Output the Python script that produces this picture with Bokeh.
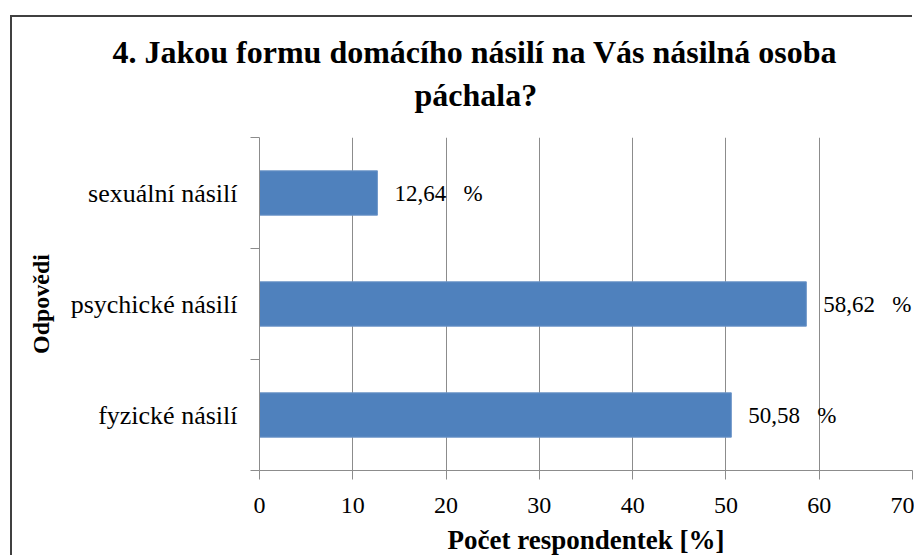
from bokeh.plotting import figure
from bokeh.models import FixedTicker, ColumnDataSource, Range1d, Title
from bokeh.embed import file_html
from bokeh.resources import INLINE
from bokeh.core.properties import value

categories = ["fyzické násilí", "psychické násilí", "sexuální násilí"]
percent = [50.58, 58.62, 12.64]
x_ticks = [0, 10, 20, 30, 40, 50, 60, 70]
title_lines = ["4. Jakou formu domácího násilí na Vás násilná osoba", "páchala?"]
x_title = "Počet respondentek [%]"
y_title = "Odpovědi"

SERIF = "Liberation Serif"
BLUE = "#4F81BD"
GRID = "#8C8C8C"

pos = [i + 0.5 for i in range(len(categories))]
labels = [f"{v:.2f}".replace(".", ",") + " \u00a0 %" for v in percent]
src = ColumnDataSource(dict(y=pos, v=percent, lab=labels))

p = figure(width=902, height=540, x_range=Range1d(0, 70), y_range=Range1d(0, len(categories)),
           output_backend="svg", toolbar_location=None, title=None,
           min_border_left=247, min_border_right=2, min_border_top=120, min_border_bottom=87)
p.margin = (17, 0, 0, 12)
p.styles = {"box-shadow": "-2px -2px 0 0 #404040"}
p.outline_line_color = None
p.background_fill_color = "white"
p.border_fill_color = "white"

# two-line title, second line closest to the frame
p.add_layout(Title(text=title_lines[1], align="left", offset=155, standoff=50,
                   text_font=SERIF, text_font_style="bold", text_font_size="32px",
                   text_color="#000000"), "above")
p.add_layout(Title(text=title_lines[0], align="left", offset=-147, standoff=-40,
                   text_font=SERIF, text_font_style="bold", text_font_size="32px",
                   text_color="#000000"), "above")

p.hbar(y="y", right="v", left=0, height=0.4, source=src, fill_color=BLUE, line_color="#6E96C8", line_width=1)
p.text(x="v", y="y", text="lab", source=src, x_offset=17, text_baseline="middle", text_align="left",
       text_font=value(SERIF), text_font_size="23px", text_color="#000000")

# x axis
p.xaxis.ticker = FixedTicker(ticks=x_ticks)
p.xaxis.axis_line_color = GRID
p.xaxis.major_tick_line_color = GRID
p.xaxis.major_tick_out = 9
p.xaxis.major_tick_in = 0
p.xaxis.minor_tick_line_color = None
p.xaxis.major_label_text_font = SERIF
p.xaxis.major_label_text_font_size = "24px"
p.xaxis.major_label_text_color = "#000000"
p.xaxis.major_label_standoff = 18
p.xaxis.axis_label = x_title
p.xaxis.axis_label_text_font = SERIF
p.xaxis.axis_label_text_font_style = "bold"
p.xaxis.axis_label_text_font_size = "27px"
p.xaxis.axis_label_text_color = "#000000"
p.xaxis.axis_label_standoff = 9

# y axis
p.yaxis.ticker = FixedTicker(ticks=pos, minor_ticks=list(range(len(categories) + 1)))
p.yaxis.major_label_overrides = {pp: c for pp, c in zip(pos, categories)}
p.yaxis.axis_line_color = GRID
p.yaxis.major_tick_line_color = None
p.yaxis.minor_tick_line_color = GRID
p.yaxis.minor_tick_out = 9
p.yaxis.minor_tick_in = 0
p.yaxis.major_label_text_font = SERIF
p.yaxis.major_label_text_font_size = "26px"
p.yaxis.major_label_text_color = "#000000"
p.yaxis.major_label_standoff = 13
p.yaxis.axis_label = y_title
p.yaxis.axis_label_text_font = SERIF
p.yaxis.axis_label_text_font_style = "bold"
p.yaxis.axis_label_text_font_size = "24px"
p.yaxis.axis_label_text_color = "#000000"
p.yaxis.axis_label_standoff = 14

p.xgrid.ticker = FixedTicker(ticks=x_ticks)
p.xgrid.grid_line_color = GRID
p.ygrid.grid_line_color = None

open("out.html", "w").write(file_html(p, INLINE))
